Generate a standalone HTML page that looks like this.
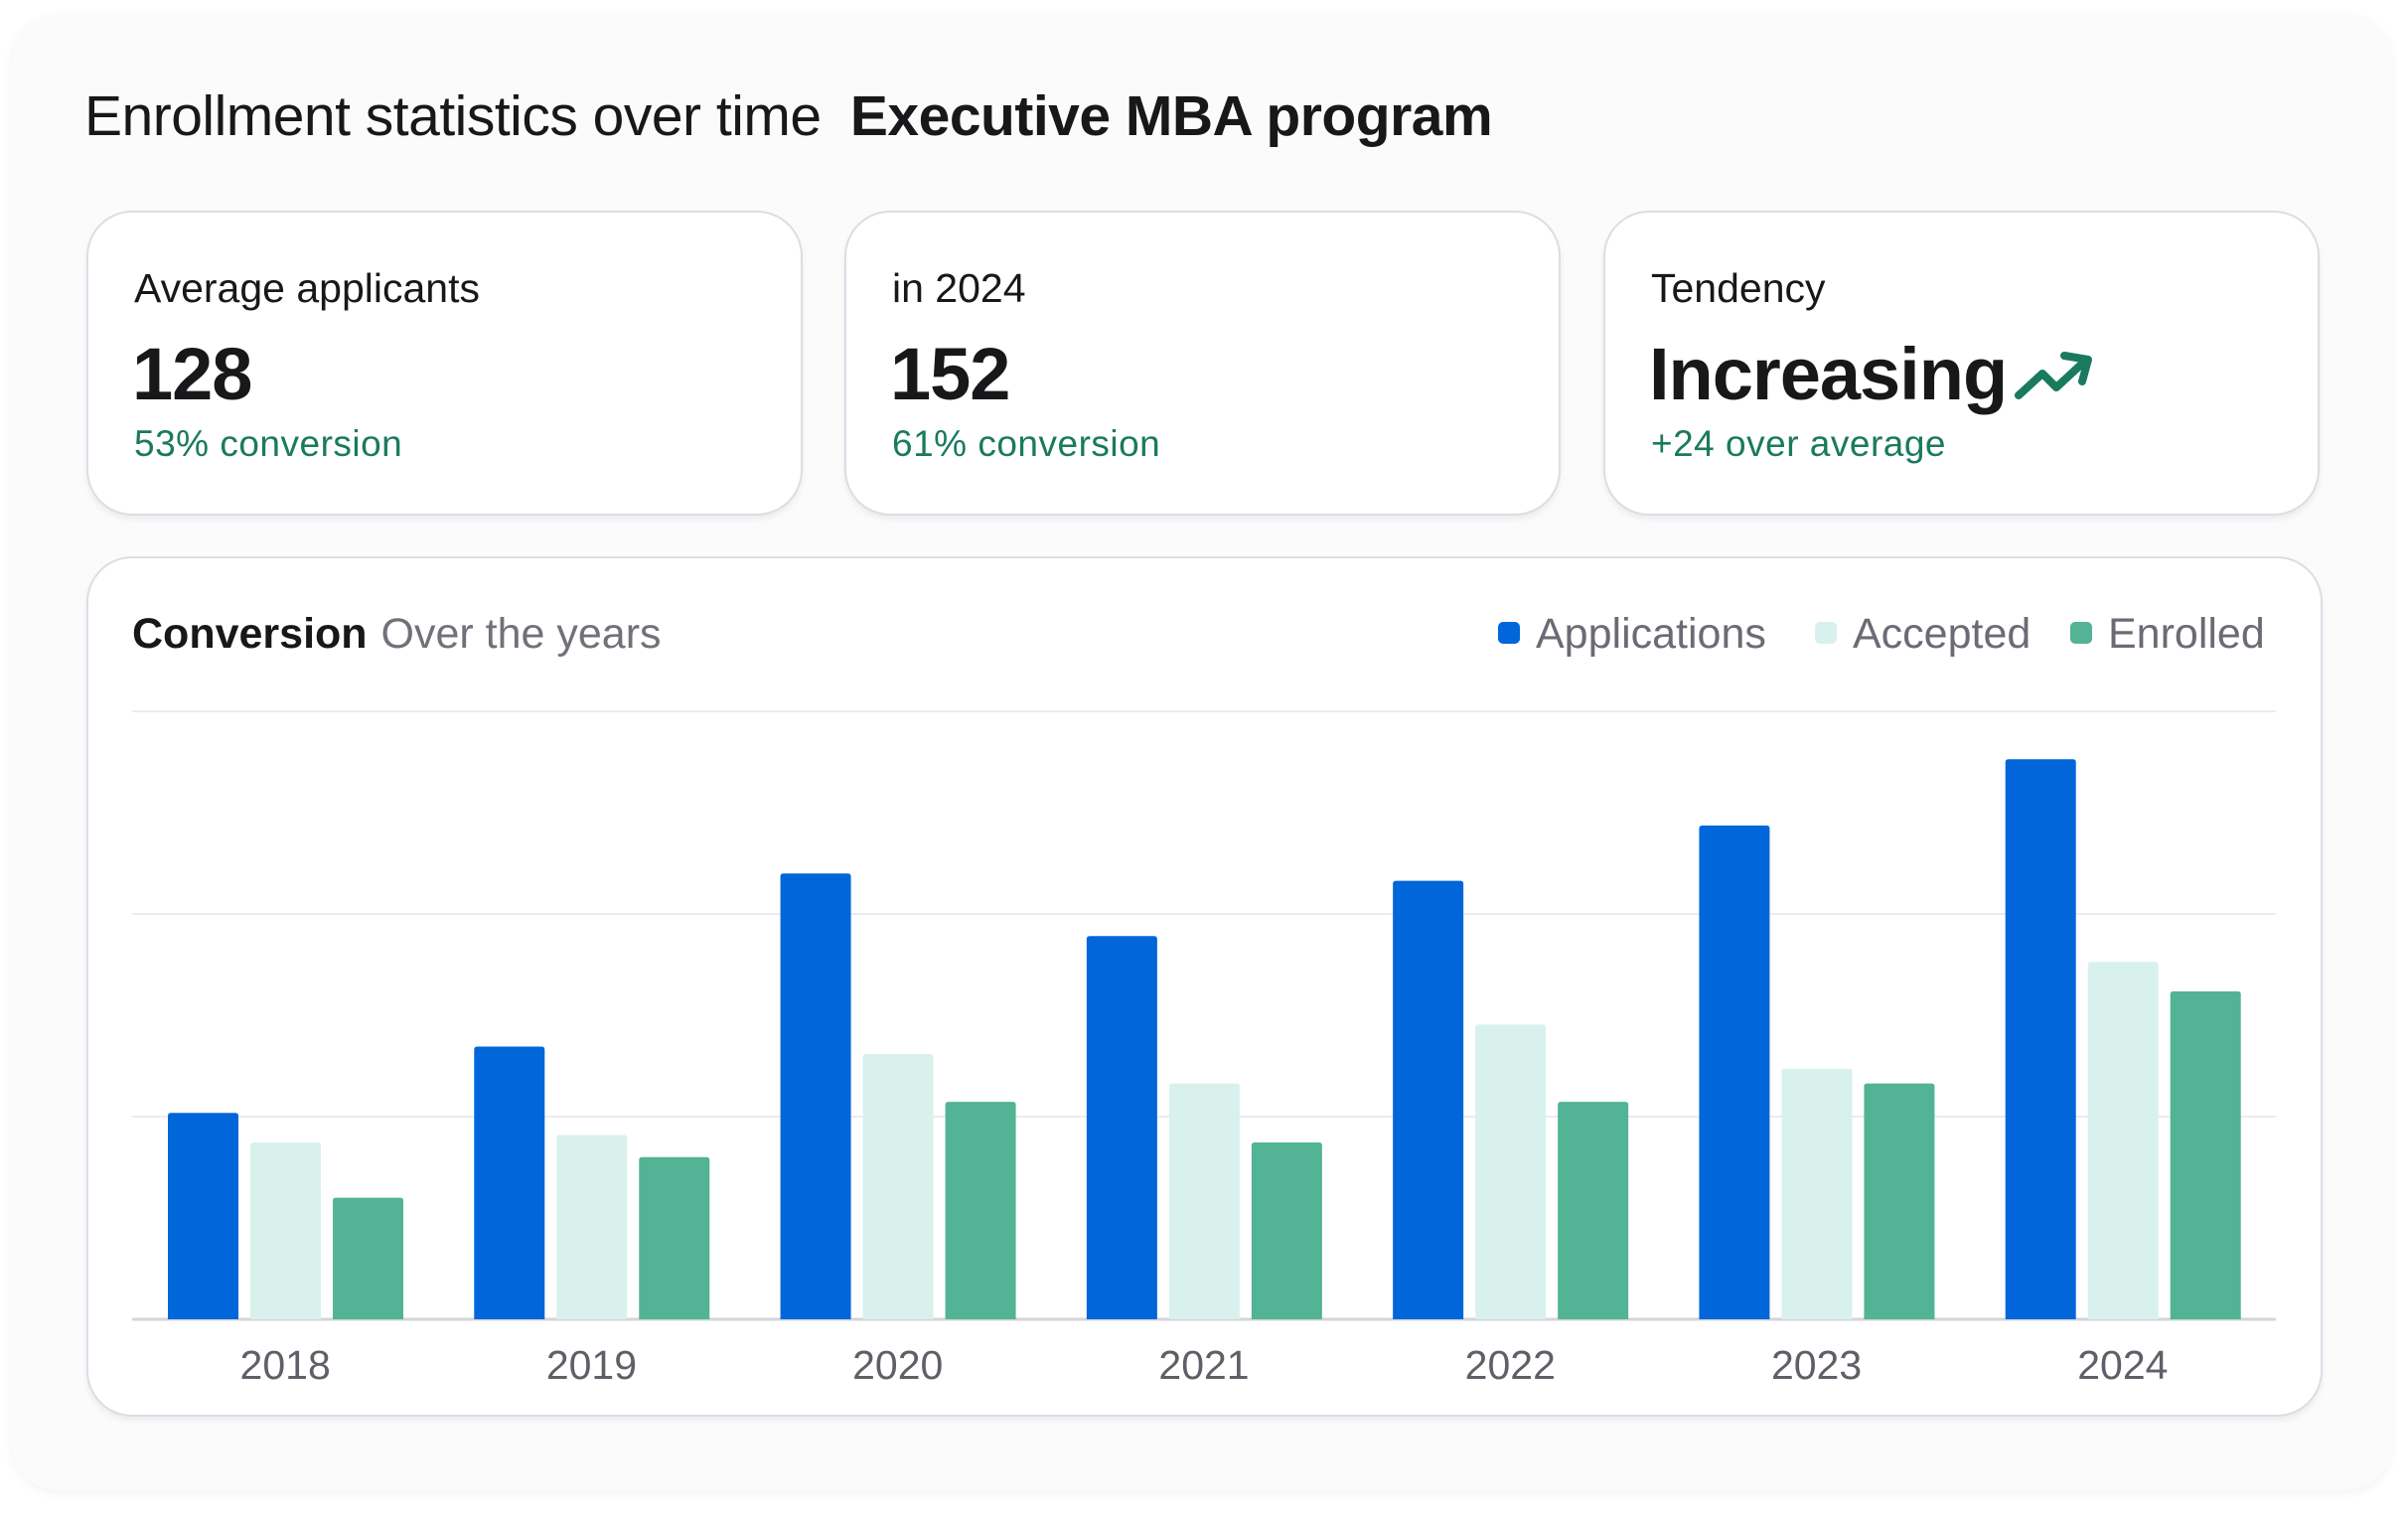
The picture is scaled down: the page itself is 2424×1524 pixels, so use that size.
<!DOCTYPE html>
<html><head><meta charset="utf-8">
<style>
html,body{margin:0;padding:0;background:#fff;}
body{width:2424px;height:1524px;position:relative;overflow:hidden;font-family:"Liberation Sans",sans-serif;color:#18181b;}
.outer{position:absolute;left:12px;top:14px;width:2396px;height:1486px;background:#fbfbfc;border-radius:46px;box-shadow:0 3px 10px rgba(0,0,0,0.05);}
.title{position:absolute;left:85px;top:84px;font-size:57px;white-space:nowrap;letter-spacing:-0.5px;}
.title b{font-weight:700;margin-left:14px;}
.card{position:absolute;top:212px;width:721px;height:307px;background:#fff;border:2px solid #dcdde5;border-radius:46px;box-shadow:0 4px 6px rgba(0,0,0,0.06);box-sizing:border-box;}
.lbl{position:absolute;left:46px;top:53px;font-size:41px;font-weight:500;}
.big{position:absolute;left:44px;top:120px;font-size:74px;font-weight:700;letter-spacing:-1px;}
.sub{position:absolute;left:46px;top:212px;font-size:37px;color:#1a7a5e;letter-spacing:0.5px;}
.chartcard{position:absolute;left:87px;top:560px;width:2251px;height:866px;background:#fff;border:2px solid #dcdde5;border-radius:46px;box-shadow:0 4px 6px rgba(0,0,0,0.06);box-sizing:border-box;}
svg{position:absolute;left:0;top:0;}
</style></head>
<body>
<div class="outer"></div>
<div class="title">Enrollment statistics over time <b>Executive MBA program</b></div>

<div class="card" style="left:87px">
  <div class="lbl">Average applicants</div>
  <div class="big">128</div>
  <div class="sub">53% conversion</div>
</div>
<div class="card" style="left:850px">
  <div class="lbl">in 2024</div>
  <div class="big">152</div>
  <div class="sub">61% conversion</div>
</div>
<div class="card" style="left:1614px">
  <div class="lbl">Tendency</div>
  <div class="big" style="font-weight:600">Increasing</div>
  <svg style="left:406px;top:134px" width="90" height="60" viewBox="0 0 90 60">
    <polyline points="10,50 34,28 48,42 74,18" fill="none" stroke="#1a7a5e" stroke-width="8" stroke-linecap="round" stroke-linejoin="round"/>
    <polyline points="56,10 80,14 74,36" fill="none" stroke="#1a7a5e" stroke-width="8" stroke-linecap="round" stroke-linejoin="round"/>
  </svg>
  <div class="sub">+24 over average</div>
</div>

<div class="chartcard"></div>
<svg id="chart" width="2424" height="1524"></svg>

<script>
const years = ["2018","2019","2020","2021","2022","2023","2024"];
const applications = [56, 74, 121, 104, 119, 134, 152];
const accepted = [48, 50, 72, 64, 80, 68, 97];
const enrolled = [33, 44, 59, 48, 59, 64, 89];
const gridTicks = [0, 55, 110, 165];
const seriesNames = ["Applications","Accepted","Enrolled"];

const NS = "http://www.w3.org/2000/svg";
const svg = document.getElementById("chart");
const plotL = 133, plotR = 2291, plotB = 1328, plotT = 716;
const yMax = 165;
function yScale(v){ return plotB - (v / yMax) * (plotB - plotT); }
const groupW = (plotR - plotL) / years.length;
function xGroup(i){ return plotL + i * groupW; }
const barW = 71, barOff = 36, barStep = 83;
const colors = ["#0066d9", "#d9f1ed", "#52b395"];
const series = [applications, accepted, enrolled];

function mk(tag, attrs){ const e = document.createElementNS(NS, tag); for (const k in attrs) e.setAttribute(k, attrs[k]); svg.appendChild(e); return e; }

// title
let t = mk("text", {x:133, y:652, "font-size":43, "font-weight":600, fill:"#18181b"});


t.textContent = "Conversion";
let ts = document.createElementNS(NS, "tspan");
ts.setAttribute("fill", "#71717a"); ts.setAttribute("font-weight", "400"); ts.setAttribute("dx", "14");
ts.textContent = "Over the years";
t.appendChild(ts);

// legend (right aligned)
const legendX = [1508, 1827, 2084];
seriesNames.forEach((n, k) => {
  const r = mk("rect", {x:legendX[k], y:626, width:22, height:22, rx:5, fill:colors[k]});
  
  
  const lt = mk("text", {x:legendX[k] + 38, y:652, "font-size":43, fill:"#6b6b76"});
  
  
  lt.textContent = n;
});

// grid
gridTicks.forEach((v, i) => {
  const l = mk("line", {x1:plotL, x2:plotR, y1:yScale(v), y2:yScale(v), stroke: i === 0 ? "#d4d4da" : "#ececf0", "stroke-width": i === 0 ? 3 : 2});
  
  
});

// bars
years.forEach((yr, i) => {
  series.forEach((s, k) => {
    const x = xGroup(i) + barOff + k * barStep;
    const y = yScale(s[i]);
    const h = plotB - y;
    const p = mk("path", {d:`M${x},${plotB} L${x},${y+3} Q${x},${y} ${x+3},${y} L${x+barW-3},${y} Q${x+barW},${y} ${x+barW},${y+3} L${x+barW},${plotB} Z`, fill:colors[k]});
    
    
  });
  const lab = mk("text", {x:xGroup(i) + groupW / 2, y:1388, "font-size":41, fill:"#5f5f68", "text-anchor":"middle"});
  
  
  lab.textContent = yr;
});
</script>
</body></html>
